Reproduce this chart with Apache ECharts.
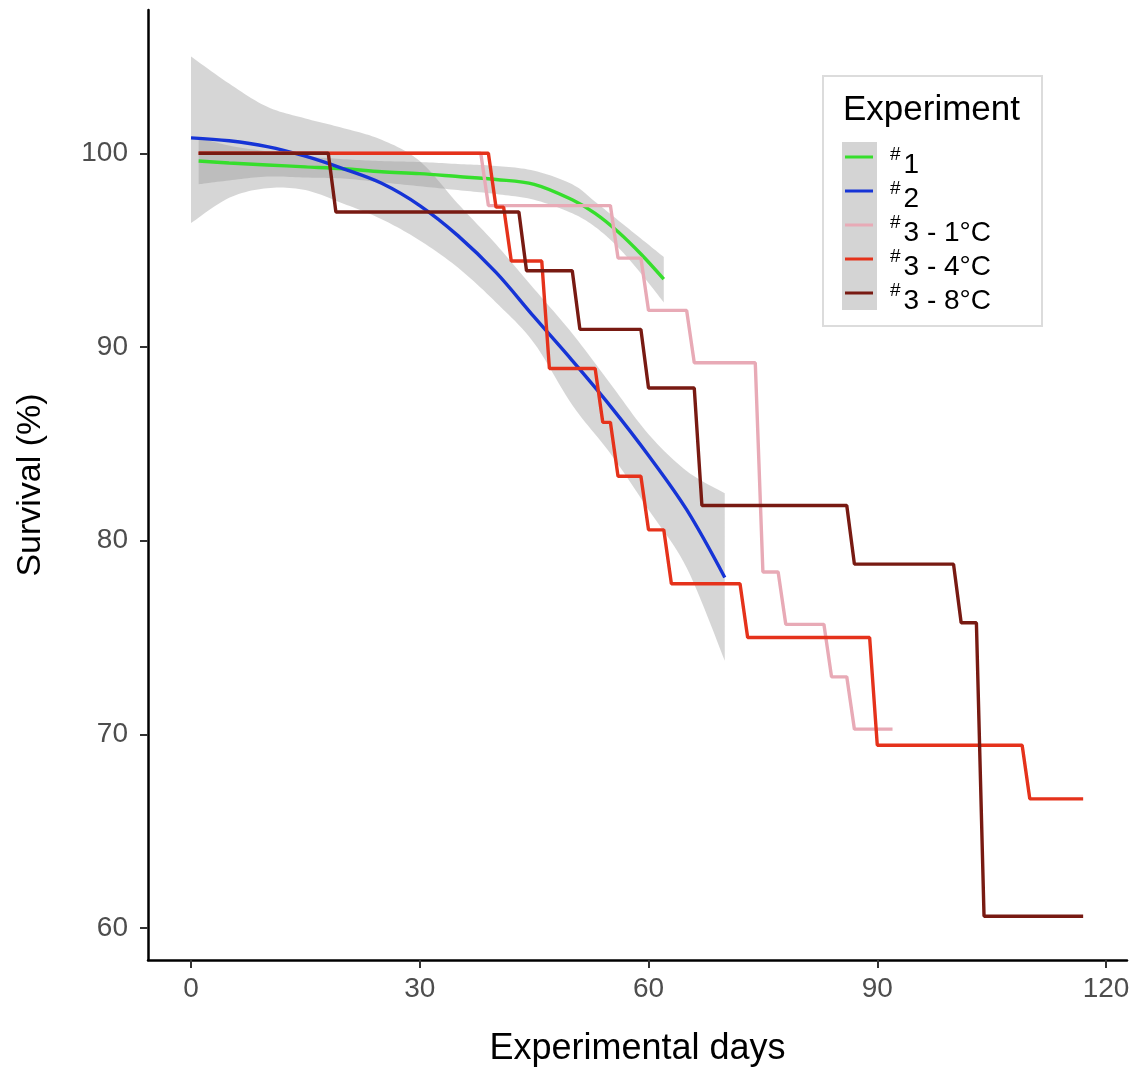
<!DOCTYPE html>
<html><head><meta charset="utf-8">
<script src="https://cdn.jsdelivr.net/npm/echarts@6/dist/echarts.min.js"></script>
<style>html,body{margin:0;padding:0;background:#fff}#c{width:1140px;height:1070px}</style>
</head><body><div id="c"></div>
<script>
const FONT = '"Liberation Sans", Arial, sans-serif';
const seriesNames = ['1', '2', '3 - 1°C', '3 - 4°C', '3 - 8°C'];
const seriesColors = ['#36DE2C', '#1634D6', '#E8AAB6', '#E5321B', '#781A12'];
const xTicks = [0, 30, 60, 90, 120];
const yTicks = [60, 70, 80, 90, 100];

// Experiment #1: smoothed fit and confidence band
const exp1Days  = [1, 5, 10, 15, 20, 25, 30, 35, 40, 45, 50, 53, 56, 59, 62];
const exp1Fit   = [99.6, 99.5, 99.4, 99.3, 99.2, 99.05, 98.95, 98.8, 98.65, 98.4, 97.6, 96.9, 95.95, 94.8, 93.5];
const exp1Lower = [98.4, 98.6, 98.8, 98.75, 98.7, 98.5, 98.3, 98.1, 97.9, 97.6, 96.9, 96.2, 95.15, 93.8, 92.3];
const exp1Upper = [100.8, 100.4, 100.1, 99.85, 99.7, 99.6, 99.55, 99.45, 99.35, 99.1, 98.4, 97.5, 96.55, 95.6, 94.65];

// Experiment #2: smoothed fit and confidence band
const exp2Days  = [0, 5, 10, 15, 20, 25, 30, 35, 40, 45, 50, 55, 60, 65, 70];
const exp2Fit   = [100.8, 100.65, 100.35, 99.85, 99.2, 98.45, 97.3, 95.75, 93.85, 91.55, 89.3, 86.95, 84.4, 81.6, 78.1];
const exp2Lower = [96.4, 97.7, 98.2, 98.1, 97.4, 96.6, 95.5, 94.1, 92.3, 90.2, 87.0, 84.5, 81.6, 78.6, 73.8];
const exp2Upper = [105.0, 103.6, 102.4, 101.8, 101.3, 100.7, 99.6, 97.4, 95.3, 93.0, 90.7, 88.1, 85.5, 83.6, 82.45];

// Experiment #3 survival steps (day, survival %)
const exp3c1Days = [1, 38, 39, 55, 56, 59, 60, 65, 66, 74, 75, 77, 78, 83, 84, 86, 87, 92];
const exp3c1Surv = [100, 100, 97.30, 97.30, 94.59, 94.59, 91.89, 91.89, 89.19, 89.19, 78.38, 78.38, 75.68, 75.68, 72.97, 72.97, 70.27, 70.27];
const exp3c4Days = [1, 39, 40, 41, 42, 46, 47, 53, 54, 55, 56, 59, 60, 62, 63, 72, 73, 89, 90, 109, 110, 117];
const exp3c4Surv = [100, 100, 97.22, 97.22, 94.44, 94.44, 88.89, 88.89, 86.11, 86.11, 83.33, 83.33, 80.56, 80.56, 77.78, 77.78, 75.0, 75.0, 69.44, 69.44, 66.67, 66.67];
const exp3c8Days = [1, 18, 19, 43, 44, 50, 51, 59, 60, 66, 67, 86, 87, 100, 101, 103, 104, 117];
const exp3c8Surv = [100, 100, 96.97, 96.97, 93.94, 93.94, 90.91, 90.91, 87.88, 87.88, 81.82, 81.82, 78.79, 78.79, 75.76, 75.76, 60.61, 60.61];

const zip = (a, b) => a.map((v, i) => [v, b[i]]);
const bandFill = 'rgba(153,153,153,0.4)';

// pixel-space Catmull-Rom smoothing of an edge (rendering only)
function smoothEdge(P) {
  const out = [];
  const n = P.length;
  for (let i = 0; i < n - 1; i++) {
    const p0 = P[i - 1] || P[i], p1 = P[i], p2 = P[i + 1], p3 = P[i + 2] || P[i + 1];
    const steps = 12;
    for (let s = 0; s < steps; s++) {
      const t = s / steps, t2 = t * t, t3 = t2 * t;
      const f = k => 0.5 * ((2 * p1[k]) + (-p0[k] + p2[k]) * t + (2 * p0[k] - 5 * p1[k] + 4 * p2[k] - p3[k]) * t2 + (-p0[k] + 3 * p1[k] - 3 * p2[k] + p3[k]) * t3);
      out.push([f(0), f(1)]);
    }
  }
  out.push(P[n - 1]);
  return out;
}

function band(days, lower, upper) {
  return {
    type: 'custom', silent: true, z: 1, animation: false,
    data: days.map((d, i) => [d, lower[i], upper[i]]),
    encode: { x: 0, y: [1, 2] },
    renderItem: (params, api) => {
      if (params.dataIndex !== 0) return;
      const lo = days.map((d, i) => api.coord([d, lower[i]]));
      const hi = days.map((d, i) => api.coord([d, upper[i]]));
      const pts = smoothEdge(lo).concat(smoothEdge(hi).reverse());
      return { type: 'polygon', shape: { points: pts }, style: { fill: bandFill } };
    }
  };
}
function line(idx, days, vals, smooth) {
  return { type: 'line', name: seriesNames[idx], data: zip(days, vals), symbol: 'none', smooth: smooth ? 0.35 : false,
    color: seriesColors[idx], lineStyle: { width: 3.4, color: seriesColors[idx] }, z: 3 + idx, animation: false };
}

const chart = echarts.init(document.getElementById('c'), null, { renderer: 'canvas' });
chart.setOption({
  backgroundColor: '#fff',
  animation: false,
  grid: { left: 148, right: 13, top: 10, bottom: 110, containLabel: false, outerBoundsMode: 'none' },
  xAxis: {
    type: 'value', min: -5.64, max: 122.75,
    axisLine: { onZero: false, lineStyle: { color: '#000', width: 2.5 } },
    axisTick: { show: true, customValues: xTicks, length: 8, lineStyle: { color: '#333', width: 2 } },
    axisLabel: { customValues: xTicks, fontSize: 28, color: '#4d4d4d', margin: 15, fontFamily: FONT },
    splitLine: { show: false },
    name: 'Experimental days', nameLocation: 'middle', nameGap: 71,
    nameTextStyle: { fontSize: 36, color: '#000', fontFamily: FONT }
  },
  yAxis: {
    type: 'value', min: 58.35, max: 107.4,
    axisLine: { show: true, onZero: false, lineStyle: { color: '#000', width: 2.5 } },
    axisTick: { show: true, customValues: yTicks, length: 8, lineStyle: { color: '#333', width: 2 } },
    axisLabel: { customValues: yTicks, fontSize: 28, color: '#4d4d4d', margin: 20, fontFamily: FONT },
    splitLine: { show: false },
    name: 'Survival (%)', nameLocation: 'middle', nameGap: 100, nameRotate: 90,
    nameTextStyle: { fontSize: 34, color: '#000', fontFamily: FONT }
  },
  legend: {
    data: seriesNames, orient: 'vertical', left: 845, top: 135, padding: 0, itemGap: -10,
    icon: 'rect', itemWidth: 28, itemHeight: 3, selectedMode: false,
    formatter: n => '{s|#}{n|' + n + '}',
    textStyle: {
      fontFamily: FONT, color: '#000', lineHeight: 34, padding: [10, 0, 0, 12],
      rich: {
        s: { fontSize: 19, fontFamily: FONT, color: '#000', verticalAlign: 'top', lineHeight: 34, padding: [0, 3, 0, 0] },
        n: { fontSize: 28, fontFamily: FONT, color: '#000', verticalAlign: 'bottom', lineHeight: 34 }
      }
    }
  },
  graphic: [
    { type: 'rect', z: 0, shape: { x: 823, y: 76, width: 219, height: 250 },
      style: { fill: '#fff', stroke: '#dcdcdc', lineWidth: 2 } },
    { type: 'rect', z: 1, shape: { x: 842, y: 142, width: 35, height: 168 }, style: { fill: '#d4d4d4' } },
    { type: 'text', z: 1, x: 843, y: 110,
      style: { text: 'Experiment', font: '35px ' + FONT, fill: '#000', verticalAlign: 'middle' } }
  ],
  series: [
    band(exp1Days, exp1Lower, exp1Upper),
    band(exp2Days, exp2Lower, exp2Upper),
    line(0, exp1Days, exp1Fit, true),
    line(1, exp2Days, exp2Fit, true),
    line(2, exp3c1Days, exp3c1Surv, false),
    line(3, exp3c4Days, exp3c4Surv, false),
    line(4, exp3c8Days, exp3c8Surv, false)
  ]
});
</script></body></html>
